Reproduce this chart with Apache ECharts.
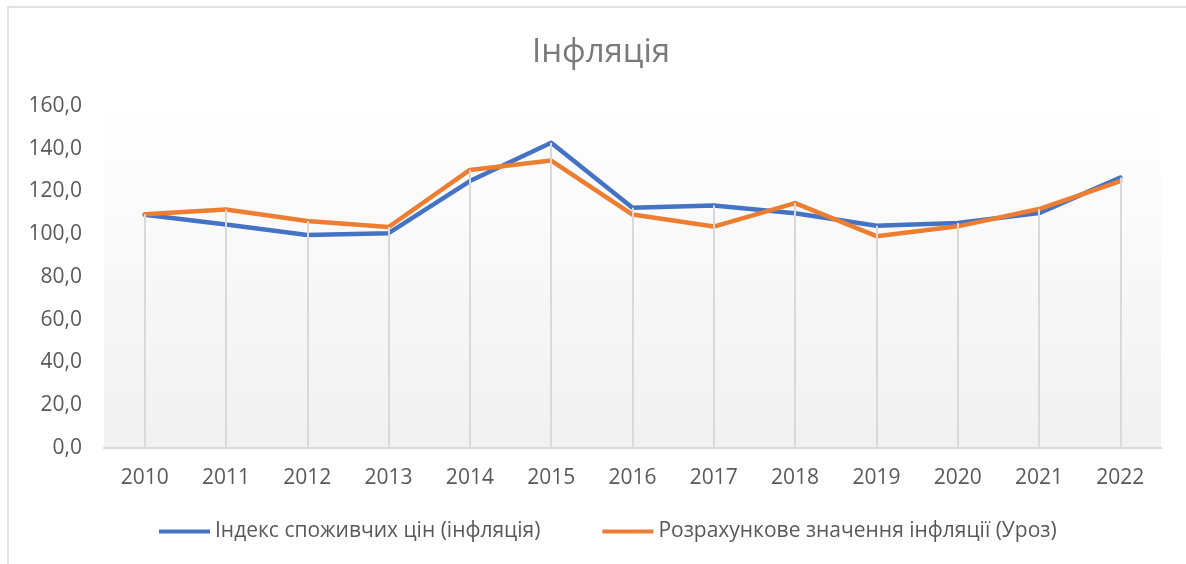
<!DOCTYPE html>
<html>
<head>
<meta charset="utf-8">
<script src="https://cdn.jsdelivr.net/npm/echarts@6/dist/echarts.min.js"></script>
<style>
  html, body { margin: 0; padding: 0; background: #fff; }
  #chart { width: 1186px; height: 564px; }
</style>
</head>
<body>
<div id="chart"></div>
<script>
// Data
var years = ['2010', '2011', '2012', '2013', '2014', '2015', '2016', '2017', '2018', '2019', '2020', '2021', '2022'];
var cpi = [109.1, 104.6, 99.6, 100.5, 124.9, 142.8, 112.4, 113.5, 109.8, 104.0, 105.3, 109.9, 126.5];
var calc = [109.4, 111.6, 106.2, 103.4, 130.1, 134.5, 109.2, 103.6, 114.6, 99.1, 103.7, 111.8, 124.9];
var seriesNames = ['Індекс споживчих цін (інфляція)', 'Розрахункове значення інфляції (Уроз)'];

(function() {
  var font = '"Open Sans", "Noto Sans", sans-serif';
  var chart = echarts.init(document.getElementById('chart'));

  // лінії від точки до осі (drop lines)
  var drops = years.map(function(y, i) {
    return [{ coord: [i, Math.max(cpi[i], calc[i])] }, { coord: [i, 0] }];
  });

  chart.setOption({
    animation: false,
    textStyle: { fontFamily: font },
    title: {
      text: 'Інфляція',
      left: 596,
      textAlign: 'center',
      top: 31,
      textStyle: { fontFamily: font, fontSize: 33, fontWeight: 'normal', color: '#7a7a7a' }
    },
    graphic: [{
      type: 'rect',
      shape: { x: 8, y: 7, width: 1200, height: 600 },
      style: { fill: 'none', stroke: '#d9d9d9', lineWidth: 1.5 },
      silent: true,
      z: -10
    }],
    legend: {
      data: seriesNames,
      left: 154,
      top: 516,
      itemWidth: 51,
      itemHeight: 4,
      itemGap: 62,
      icon: 'rect',
      textStyle: { fontFamily: font, fontSize: 21, color: '#595959' }
    },
    grid: {
      left: 104,
      right: 25,
      top: 106,
      bottom: 116,
      show: true,
      borderWidth: 0,
      backgroundColor: {
        type: 'linear', x: 0, y: 0, x2: 0, y2: 1,
        colorStops: [
          { offset: 0, color: '#ffffff' },
          { offset: 0.13, color: '#fdfdfd' },
          { offset: 1, color: '#f1f1f1' }
        ]
      }
    },
    xAxis: {
      type: 'category',
      data: years,
      boundaryGap: true,
      axisLine: { lineStyle: { color: '#d9d9d9', width: 2 } },
      axisTick: { show: false },
      axisLabel: { fontFamily: font, fontSize: 21, color: '#595959', margin: 20 }
    },
    yAxis: {
      type: 'value',
      min: 0,
      max: 160,
      interval: 20,
      axisLine: { show: false },
      axisTick: { show: false },
      splitLine: { show: false },
      axisLabel: {
        fontFamily: font, fontSize: 21, color: '#595959', margin: 22,
        formatter: function(v) { return v.toFixed(1).replace('.', ','); }
      }
    },
    series: [{
      type: 'line',
      name: 'drops',
      data: [],
      silent: true,
      z: 1,
      markLine: {
        silent: true,
        symbol: 'none',
        label: { show: false },
        lineStyle: { color: '#d9d9d9', width: 2, type: 'solid' },
        data: drops
      }
    }, {
      type: 'line',
      name: seriesNames[0],
      data: cpi,
      z: 3,
      symbol: 'none',
      color: '#4472c4',
      lineStyle: { width: 4.5, color: '#4472c4', join: 'round', cap: 'round' }
    }, {
      type: 'line',
      name: seriesNames[1],
      data: calc,
      z: 4,
      symbol: 'none',
      color: '#ed7d31',
      lineStyle: { width: 4.5, color: '#ed7d31', join: 'round', cap: 'round' }
    }]
  });
})();
</script>
</body>
</html>
